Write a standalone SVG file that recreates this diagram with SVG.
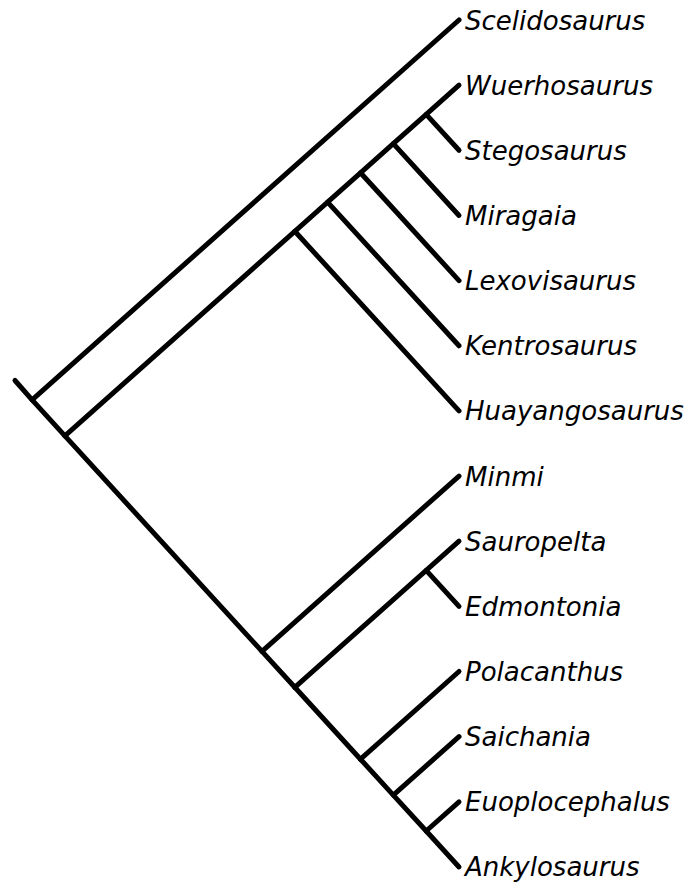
<svg xmlns="http://www.w3.org/2000/svg" width="696" height="883" viewBox="0 0 696 883">
<style>
.br{fill:none;stroke:#000;stroke-width:5;stroke-linecap:round;stroke-linejoin:round}
.lb{font-family:"DejaVu Sans",sans-serif;font-style:italic;font-size:26px;fill:#000}
</style>
<rect width="696" height="883" fill="#fff"/>
<g id="connectors" class="br">
<path d="M15,380.5 L32.1,399.9"/>
<path d="M32.1,399.9 L459,20"/>
<path d="M32.1,399.9 L64.9,435.9"/>
<path d="M64.9,435.9 L294.8,231.3"/>
<path d="M294.8,231.3 L459,410.9"/>
<path d="M294.8,231.3 L327.6,202.1 L459,345.75"/>
<path d="M327.6,202.1 L360.5,172.8 L459,280.6"/>
<path d="M360.5,172.8 L393.3,143.6 L459,215.45"/>
<path d="M393.3,143.6 L426.2,114.4 L459,150.3"/>
<path d="M426.2,114.4 L459,85.15"/>
<path d="M64.9,435.9 L262,651.4"/>
<path d="M262,651.4 L459,476.05"/>
<path d="M262,651.4 L294.8,687.3"/>
<path d="M294.8,687.3 L426.2,570.4 L459,541.2"/>
<path d="M426.2,570.4 L459,606.35"/>
<path d="M294.8,687.3 L360.5,759.2"/>
<path d="M360.5,759.2 L459,671.5"/>
<path d="M360.5,759.2 L393.3,795.1 L459,736.65"/>
<path d="M393.3,795.1 L426.2,831 L459,801.8"/>
<path d="M426.2,831 L459,866.95"/>
</g>
<g id="n-scelidosaurus"><text class="lb" x="465" y="29.5">Scelidosaurus</text></g>
<g id="n-wuerhosaurus"><text class="lb" x="465" y="94.6">Wuerhosaurus</text></g>
<g id="n-stegosaurus"><text class="lb" x="465" y="159.8">Stegosaurus</text></g>
<g id="n-miragaia"><text class="lb" x="465" y="224.9">Miragaia</text></g>
<g id="n-lexovisaurus"><text class="lb" x="465" y="290.1">Lexovisaurus</text></g>
<g id="n-kentrosaurus"><text class="lb" x="465" y="355.2">Kentrosaurus</text></g>
<g id="n-huayangosaurus"><text class="lb" x="465" y="420.4">Huayangosaurus</text></g>
<g id="n-minmi"><text class="lb" x="465" y="485.5">Minmi</text></g>
<g id="n-sauropelta"><text class="lb" x="465" y="550.7">Sauropelta</text></g>
<g id="n-edmontonia"><text class="lb" x="465" y="615.8">Edmontonia</text></g>
<g id="n-polacanthus"><text class="lb" x="465" y="681">Polacanthus</text></g>
<g id="n-saichania"><text class="lb" x="465" y="746.1">Saichania</text></g>
<g id="n-euoplocephalus"><text class="lb" x="465" y="811.3">Euoplocephalus</text></g>
<g id="n-ankylosaurus"><text class="lb" x="465" y="876.4">Ankylosaurus</text></g>
</svg>
